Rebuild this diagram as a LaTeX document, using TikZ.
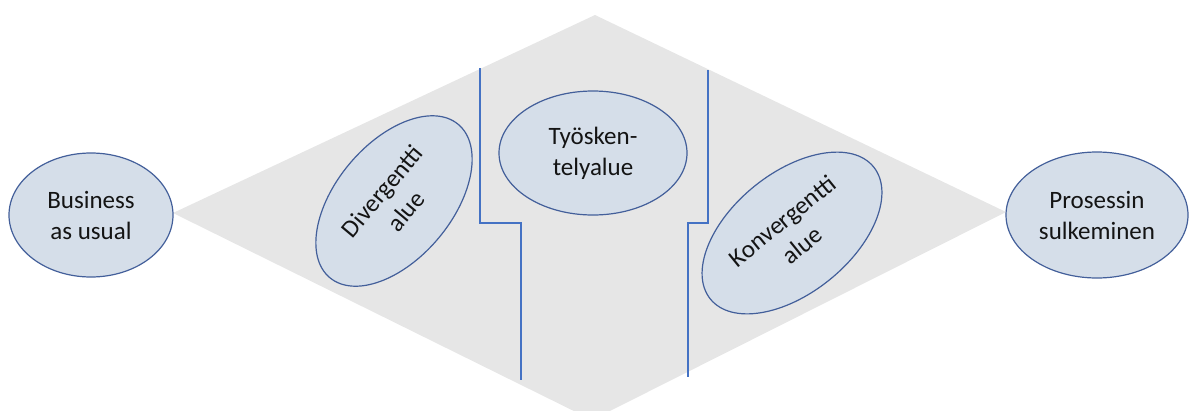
\documentclass[tikz,border=0pt]{standalone}
\usepackage{fontspec}
\setmainfont{Carlito}
\usetikzlibrary{shapes.geometric}
\definecolor{diamondgrey}{HTML}{E6E6E6}
\definecolor{ellfill}{HTML}{D5DEE9}
\definecolor{elldraw}{HTML}{435F9A}
\definecolor{wallblue}{HTML}{4472C4}
\definecolor{txt}{HTML}{141414}
\begin{document}
\begin{tikzpicture}[x=1pt,y=-1pt,
  area/.style={ellipse, draw=elldraw, line width=1.2pt, fill=ellfill, inner sep=0pt, align=center, text=txt, font=\fontsize{25}{31}\selectfont},
  wall/.style={draw=wallblue, line width=1.4pt}]
\useasboundingbox (0,0) rectangle (1189,410);
\clip (0,0) rectangle (1189,410);
\fill[diamondgrey] (173,213) -- (595,15) -- (1006,212) -- (592,420) -- cycle;
% walls
\coordinate (la) at (480,68);
\coordinate (lb) at (521,380);
\coordinate (ra) at (708,70);
\coordinate (rb) at (688,377);
\draw[wall] (la) -- (480,223) -- (521,223) -- (lb);
\draw[wall] (ra) -- (708,223) -- (688,223) -- (rb);
% areas
\node[area, minimum width=164pt, minimum height=124pt] (bau) at (91,215) {Business\\as usual};
\node[area, rotate=50, minimum width=200pt, minimum height=116pt] (div) at (394,201) {Divergentti\\alue};
\node[area, minimum width=188pt, minimum height=124pt] (work) at (593,153) {Työsken-\\telyalue};
\node[area, rotate=39, minimum width=210pt, minimum height=120pt] (conv) at (792,233) {Konvergentti\\alue};
\node[area, minimum width=182pt, minimum height=126pt] (close) at (1097,215) {Prosessin\\sulkeminen};
\end{tikzpicture}
\end{document}
